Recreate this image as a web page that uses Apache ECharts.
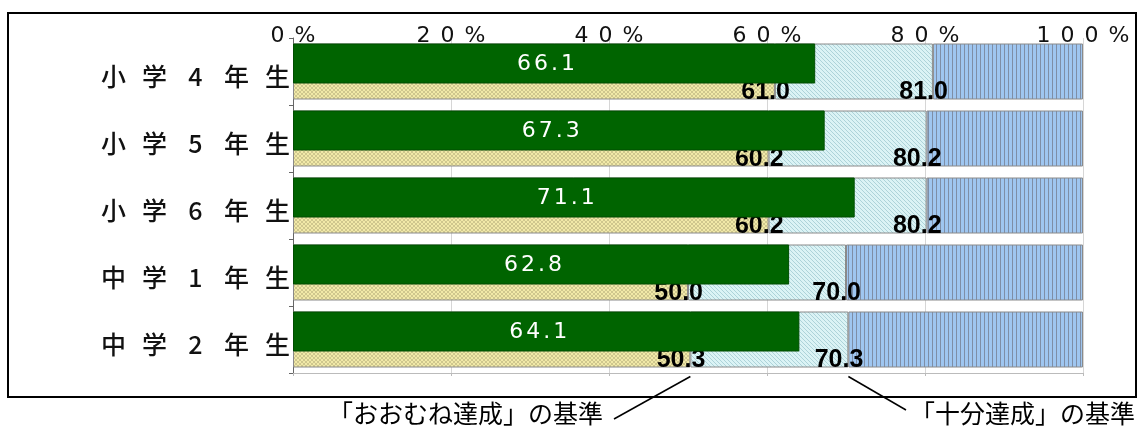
<!DOCTYPE html>
<html><head><meta charset="utf-8">
<script src="https://cdn.jsdelivr.net/npm/echarts@6/dist/echarts.min.js"></script>
<style>html,body{margin:0;padding:0;background:#fff}#c{width:1144px;height:430px}</style>
</head><body><div id="c"></div>
<script>
const categories = ['小学4年生','小学5年生','小学6年生','中学1年生','中学2年生'];
const scores = [66.1, 67.3, 71.1, 62.8, 64.1];
const basicThreshold = [61.0, 60.2, 60.2, 50.0, 50.3];      // 「おおむね達成」の基準
const sufficientThreshold = [81.0, 80.2, 80.2, 70.0, 70.3]; // 「十分達成」の基準
const xTicks = [0, 20, 40, 60, 80, 100];
const noteBasic = '「おおむね達成」の基準';
const noteSufficient = '「十分達成」の基準';

function pat(w, h, draw) {
  const c = document.createElement('canvas'); c.width = w; c.height = h;
  const g = c.getContext('2d'); draw(g, w, h);
  return { image: c, repeat: 'repeat' };
}
const yellowPat = pat(4, 4, (g) => {
  g.fillStyle = '#f1e9a8'; g.fillRect(0, 0, 4, 4);
  g.fillStyle = '#cfc78e';
  for (let i = 0; i < 4; i++) { g.fillRect(i, i, 1, 1); g.fillRect(3 - i, i, 1, 1); }
});
const cyanPat = pat(4, 4, (g) => {
  g.fillStyle = '#dbf3f5'; g.fillRect(0, 0, 4, 4);
  g.fillStyle = '#add3d9';
  for (let i = 0; i < 4; i++) g.fillRect(i, i, 1, 1);
});
const bluePat = pat(4, 1, (g) => {
  g.fillStyle = '#9fc6f0'; g.fillRect(0, 0, 4, 1);
  g.fillStyle = '#7e8ea6'; g.fillRect(0, 0, 1, 1);
});

function spaced(s, key) { return Array.from(s).map(c => '{' + key + '|' + c + '}').join(''); }

const chart = echarts.init(document.getElementById('c'));
const valLabel = {
  show: true, position: 'insideBottomRight', distance: 0, offset: [15, 5],
  color: '#000', fontFamily: 'Liberation Sans, Arial, sans-serif', fontWeight: 'bold', fontSize: 25
};
chart.setOption({
  animation: false,
  grid: [
    { left: 293, right: 61, top: 38, height: 335 },
    { left: 293, right: 61, top: 30, height: 335 }
  ],
  xAxis: [
    { gridIndex: 0, type: 'value', position: 'top', min: 0, max: 100, interval: 20,
      axisLine: { show: false }, axisTick: { show: false },
      splitLine: { show: true, lineStyle: { color: '#d6d6d6', width: 1 } },
      axisLabel: { margin: -9, fontSize: 22, fontFamily: 'DejaVu Sans', color: '#111',
        formatter: v => spaced(v + '%', 't'),
        rich: { t: { fontSize: 22, fontFamily: 'DejaVu Sans', color: '#111', padding: [0, 5] } } } },
    { gridIndex: 1, type: 'value', min: 0, max: 100, show: false },
    { gridIndex: 0, type: 'value', position: 'bottom', min: 0, max: 100, interval: 20,
      axisLine: { show: true, lineStyle: { color: '#bbbbbb' } },
      axisTick: { show: true, length: 3, lineStyle: { color: '#bbbbbb' } },
      axisLabel: { show: false }, splitLine: { show: false } }
  ],
  yAxis: [
    { gridIndex: 0, type: 'category', data: categories, inverse: true,
      axisLine: { show: true, lineStyle: { color: '#666', width: 1 } },
      axisTick: { show: true, length: 4, lineStyle: { color: '#666' } },
      axisLabel: { margin: -5, fontSize: 25, fontFamily: 'Noto Sans CJK JP', color: '#111',
        formatter: v => spaced(v, 'c'),
        rich: { c: { fontSize: 25, fontWeight: 500, fontFamily: 'Noto Sans CJK JP', color: '#111', width: 41, align: 'center', padding: [10, 0, 0, 0] } } } },
    { gridIndex: 1, type: 'category', data: categories, inverse: true, show: false }
  ],
  series: [
    { type: 'bar', name: 'basic', stack: 'std', xAxisIndex: 0, yAxisIndex: 0, barWidth: 56, z: 2,
      data: basicThreshold,
      itemStyle: { color: yellowPat, borderColor: '#8a8a8a', borderWidth: 1 },
      label: Object.assign({}, valLabel, { formatter: p => basicThreshold[p.dataIndex].toFixed(1) }) },
    { type: 'bar', name: 'sufficient', stack: 'std', xAxisIndex: 0, yAxisIndex: 0, barWidth: 56, z: 2,
      data: sufficientThreshold.map((v, i) => +(v - basicThreshold[i]).toFixed(1)),
      itemStyle: { color: cyanPat, borderColor: '#8a8a8a', borderWidth: 1 },
      label: Object.assign({}, valLabel, { formatter: p => sufficientThreshold[p.dataIndex].toFixed(1) }) },
    { type: 'bar', name: 'rest', stack: 'std', xAxisIndex: 0, yAxisIndex: 0, barWidth: 56, z: 1,
      data: sufficientThreshold.map(v => +(100 - v).toFixed(1)),
      itemStyle: { color: bluePat, borderColor: '#8a8a8a', borderWidth: 1 } },
    { type: 'bar', name: 'score', xAxisIndex: 1, yAxisIndex: 1, barWidth: 40, z: 5,
      data: scores,
      itemStyle: { color: '#006400', borderColor: '#004d00', borderWidth: 1 },
      label: { show: true, position: 'inside', offset: [-8, 1], fontSize: 22, fontFamily: 'DejaVu Sans', color: '#fff',
        formatter: p => spaced(p.value.toFixed(1), 'g'),
        rich: { g: { fontSize: 22, fontFamily: 'DejaVu Sans', color: '#fff', padding: [0, 1.5] } } } }
  ]
});

// annotations with leader lines computed from the data positions
const last = categories.length - 1;
const pB = chart.convertToPixel({ xAxisIndex: 0, yAxisIndex: 0 }, [basicThreshold[last], categories[last]]);
const pS = chart.convertToPixel({ xAxisIndex: 0, yAxisIndex: 0 }, [sufficientThreshold[last], categories[last]]);
const yStart = pB[1] + 37;
chart.setOption({
  graphic: [
    { type: 'rect', shape: { x: 8, y: 13, width: 1128, height: 384 }, style: { fill: 'none', stroke: '#000', lineWidth: 2 }, z: 10 },
    { type: 'text', right: 1144 - 603, top: 401, style: { text: noteBasic, font: '25px "Noto Sans CJK JP"', fill: '#000' } },
    { type: 'text', left: 910, top: 401, style: { text: noteSufficient, font: '25px "Noto Sans CJK JP"', fill: '#000' } },
    { type: 'line', shape: { x1: pB[0], y1: yStart, x2: 614, y2: 419 }, style: { stroke: '#000', lineWidth: 1.5 }, z: 10 },
    { type: 'line', shape: { x1: pS[0], y1: yStart, x2: 906, y2: 410 }, style: { stroke: '#000', lineWidth: 1.5 }, z: 10 }
  ]
});
</script></body></html>
